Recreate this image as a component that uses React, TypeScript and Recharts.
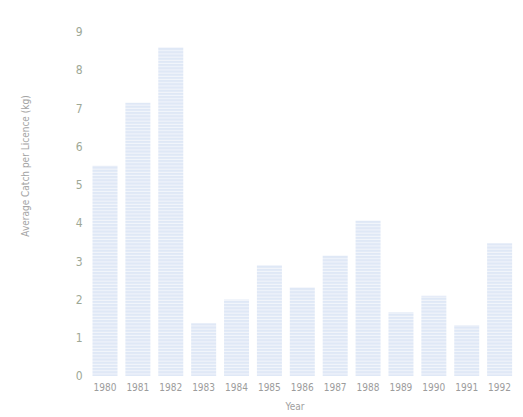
import { BarChart, Bar, XAxis, YAxis, Label } from 'recharts'

const years = ['1980', '1981', '1982', '1983', '1984', '1985', '1986', '1987', '1988', '1989', '1990', '1991', '1992']
const catchPerLicence = [5.5, 7.15, 8.6, 1.38, 2.0, 2.9, 2.32, 3.15, 4.07, 1.67, 2.1, 1.33, 3.47]
const yTicks = [0, 1, 2, 3, 4, 5, 6, 7, 8, 9]

const data = years.map((year, i) => ({ year, value: catchPerLicence[i] }))

const FONT = "'DejaVu Sans Condensed', 'Liberation Sans Narrow', sans-serif"

export default function App() {
  return (
    <div style={{ position: 'absolute', left: 0, top: 0, background: '#fff' }}>
      <BarChart
        width={523}
        height={417}
        data={data}
        margin={{ top: 32, right: 7, bottom: 21, left: 0 }}
        barCategoryGap={4}
      >
        <defs>
          <pattern id='stripes' width='4' height='3.2' patternUnits='userSpaceOnUse'>
            <rect width='4' height='3.2' fill='#dfe8f6' />
            <rect y='2.2' width='4' height='1' fill='#f3f6fb' />
          </pattern>
        </defs>
        <XAxis
          dataKey='year'
          height={20}
          axisLine={false}
          tickLine={false}
          tickMargin={2}
          tick={{ fill: '#9c9c9c', fontSize: 10, fontFamily: FONT }}
          interval={0}
        >
          <Label
            content={() => (
              <text
                x={295}
                y={407}
                textAnchor='middle'
                dominantBaseline='middle'
                fill='#a0a0a0'
                fontSize={10}
                fontFamily={FONT}
              >
                Year
              </text>
            )}
          />
        </XAxis>
        <YAxis
          domain={[0, 9]}
          ticks={yTicks}
          width={88.5}
          axisLine={false}
          tickLine={false}
          tickSize={4}
          tickMargin={2}
          tick={{ fill: '#9ea896', fontSize: 12, fontFamily: FONT }}
        >
          <Label
            content={() => (
              <text
                x={26}
                y={166}
                transform='rotate(-90 26 166)'
                textAnchor='middle'
                dominantBaseline='middle'
                fill='#a4a4a4'
                fontSize={10}
                fontFamily={FONT}
              >
                Average Catch per Licence (kg)
              </text>
            )}
          />
        </YAxis>
        <Bar dataKey='value' fill='url(#stripes)' isAnimationActive={false} />
      </BarChart>
    </div>
  )
}
